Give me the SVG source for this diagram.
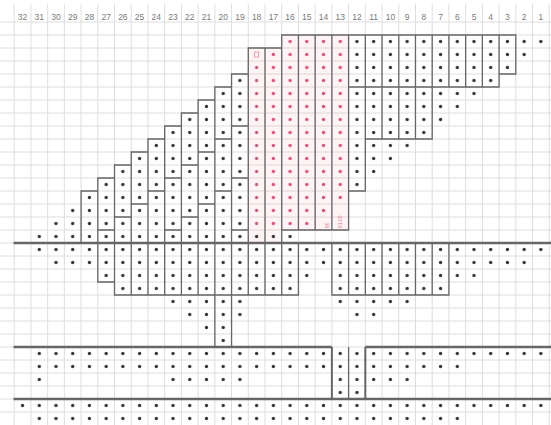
<svg xmlns="http://www.w3.org/2000/svg" width="551" height="425" viewBox="0 0 551 425">
<style>
.g{fill:none;stroke:#dedede;stroke-width:1;vector-effect:non-scaling-stroke}
.b{fill:none;stroke:#666666;stroke-width:1.3;vector-effect:non-scaling-stroke}
.t{fill:none;stroke:#666666;stroke-width:2.6;vector-effect:non-scaling-stroke}
.tv{fill:none;stroke:#666666;stroke-width:2;vector-effect:non-scaling-stroke}
.lab{font-family:"Liberation Sans",Arial,sans-serif;font-size:8.5px;fill:#7a7a7a;text-anchor:middle}
.rt{font-family:"Liberation Sans",Arial,sans-serif;font-size:5px;fill:#e07890}
</style>
<defs>
<pattern id="dk" patternUnits="userSpaceOnUse" width="1" height="1"><ellipse cx="0.5" cy="0.5" rx="0.1" ry="0.128" fill="#333333"/></pattern>
<pattern id="dr" patternUnits="userSpaceOnUse" width="1" height="1"><ellipse cx="0.5" cy="0.5" rx="0.1" ry="0.128" fill="#e0507a"/></pattern>
<pattern id="dm" patternUnits="userSpaceOnUse" width="1" height="1"><ellipse cx="0.5" cy="0.5" rx="0.1" ry="0.128" fill="#c06080"/></pattern>
</defs>
<rect width="551" height="425" fill="#ffffff"/>
<g id="sheet" transform="matrix(16.72 0 0 13 14.2 35)">
<path class="g" d="M0 -2.4V30M1 -2.4V30M2 -2.4V30M3 -2.4V30M4 -2.4V30M5 -2.4V30M6 -2.4V30M7 -2.4V30M8 -2.4V30M9 -2.4V30M10 -2.4V30M11 -2.4V30M12 -2.4V30M13 -2.4V30M14 -2.4V30M15 -2.4V30M16 -2.4V30M17 -2.4V30M18 -2.4V30M19 -2.4V30M20 -2.4V30M21 -2.4V30M22 -2.4V30M23 -2.4V30M24 -2.4V30M25 -2.4V30M26 -2.4V30M27 -2.4V30M28 -2.4V30M29 -2.4V30M30 -2.4V30M31 -2.4V30M32 -2.4V30
M-0.85 -1H32.2M-0.85 0H32.2M-0.85 1H32.2M-0.85 2H32.2M-0.85 3H32.2M-0.85 4H32.2M-0.85 5H32.2M-0.85 6H32.2M-0.85 7H32.2M-0.85 8H32.2M-0.85 9H32.2M-0.85 10H32.2M-0.85 11H32.2M-0.85 12H32.2M-0.85 13H32.2M-0.85 14H32.2M-0.85 15H32.2M-0.85 16H32.2M-0.85 17H32.2M-0.85 18H32.2M-0.85 19H32.2M-0.85 20H32.2M-0.85 21H32.2M-0.85 22H32.2M-0.85 23H32.2M-0.85 24H32.2M-0.85 25H32.2M-0.85 26H32.2M-0.85 27H32.2M-0.85 28H32.2M-0.85 29H32.2"/>
<path fill="#f06080" fill-opacity="0.07" d="M14 1H16V16H14ZM16 0H20V15H16Z"/>
<g id="dots">
<path fill="url(#dk)" fill-rule="evenodd" d="M16.5 0H32.5L16.5 16H0.5ZM14 2.5L16.5 0H20V12.5L17.5 15H14Z"/>
<path fill="url(#dm)" d="M14 2.5L15 1.5V15H14Z"/>
<path fill="url(#dr)" d="M15 1.5L16.5 0H20V12.5L17.5 15H15Z"/>
<path fill="url(#dk)" d="M1 16H32V17H1ZM2 17H31V18H2ZM5 18H18V19H5ZM19 18H28V19H19ZM6 19H17V20H6ZM19 19H26V20H19ZM9 20H14V21H9ZM19 20H24V21H19ZM10 21H14V22H10ZM20 21H22V22H20ZM11 22H13V23H11ZM12 23H13V24H12ZM1 24H32V25H1ZM1 25H27V26H1ZM1 26H2V27H1ZM9 26H14V27H9ZM19 26H24V27H19ZM19 27H21V28H19ZM0 28H32V29H0ZM1 29H27V30H1Z"/>
</g>
<path id="bars" class="b" d="M4 12h1v4h-1z
M5 11h1v4h-1zM5 15h1v4h-1z
M6 10h1v4h-1zM6 14h1v6h-1z
M7 9h1v4h-1zM7 13h1v7h-1z
M8 8h1v4h-1zM8 12h1v8h-1z
M9 7h1v4h-1zM9 11h1v4h-1zM9 15h1v5h-1z
M10 6h1v4h-1zM10 10h1v4h-1zM10 14h1v6h-1z
M11 5h1v4h-1zM11 9h1v4h-1zM11 13h1v7h-1z
M12 4h1v4h-1zM12 8h1v4h-1zM12 12h1v8h-1zM12 20h1v4h-1z
M13 3h1v4h-1zM13 7h1v4h-1zM13 11h1v4h-1zM13 15h1v5h-1z
M14 1h1v15h-1zM14 16h1v4h-1z
M15 1h1v15h-1zM15 16h1v4h-1z
M16 0h1v15h-1zM16 16h1v4h-1z
M17 0h1v15h-1z
M18 0h1v15h-1z
M19 0h1v15h-1zM19 16h1v4h-1z
M20 0h1v4h-1zM20 4h1v8h-1zM20 16h1v4h-1z
M21 0h1v4h-1zM21 4h1v4h-1zM21 16h1v4h-1z
M22 0h1v4h-1zM22 4h1v4h-1zM22 16h1v4h-1z
M23 0h1v4h-1zM23 4h1v4h-1zM23 16h1v4h-1z
M24 0h1v4h-1zM24 4h1v4h-1zM24 16h1v4h-1z
M25 0h1v4h-1zM25 16h1v4h-1z
M26 0h1v4h-1zM27 0h1v4h-1zM28 0h1v4h-1z
M29 0h1v3h-1z
M20 24V28"/>
<path id="rails" class="t" d="M-0.04 16H32.2M-0.04 24H19M21 24H32.2M-0.04 28H32.2"/>
<path class="tv" d="M19 24V28M21 24V28"/>
</g>
<rect x="254.6" y="52" width="4" height="5" fill="none" stroke="#e88a9c" stroke-width="0.8"/>
<text class="rt" transform="translate(328.5 228) rotate(-90)">60</text>
<text class="rt" transform="translate(342 228) rotate(-90)">61.00</text>
<g id="labels">
<text class="lab" x="22.56" y="20">32</text>
<text class="lab" x="39.28" y="20">31</text>
<text class="lab" x="56.0" y="20">30</text>
<text class="lab" x="72.72" y="20">29</text>
<text class="lab" x="89.44" y="20">28</text>
<text class="lab" x="106.16" y="20">27</text>
<text class="lab" x="122.88" y="20">26</text>
<text class="lab" x="139.6" y="20">25</text>
<text class="lab" x="156.32" y="20">24</text>
<text class="lab" x="173.04" y="20">23</text>
<text class="lab" x="189.76" y="20">22</text>
<text class="lab" x="206.48" y="20">21</text>
<text class="lab" x="223.2" y="20">20</text>
<text class="lab" x="239.92" y="20">19</text>
<text class="lab" x="256.64" y="20">18</text>
<text class="lab" x="273.36" y="20">17</text>
<text class="lab" x="290.08" y="20">16</text>
<text class="lab" x="306.8" y="20">15</text>
<text class="lab" x="323.52" y="20">14</text>
<text class="lab" x="340.24" y="20">13</text>
<text class="lab" x="356.96" y="20">12</text>
<text class="lab" x="373.68" y="20">11</text>
<text class="lab" x="390.4" y="20">10</text>
<text class="lab" x="407.12" y="20">9</text>
<text class="lab" x="423.84" y="20">8</text>
<text class="lab" x="440.56" y="20">7</text>
<text class="lab" x="457.28" y="20">6</text>
<text class="lab" x="474.0" y="20">5</text>
<text class="lab" x="490.72" y="20">4</text>
<text class="lab" x="507.44" y="20">3</text>
<text class="lab" x="524.16" y="20">2</text>
<text class="lab" x="540.88" y="20">1</text>
</g>
</svg>
